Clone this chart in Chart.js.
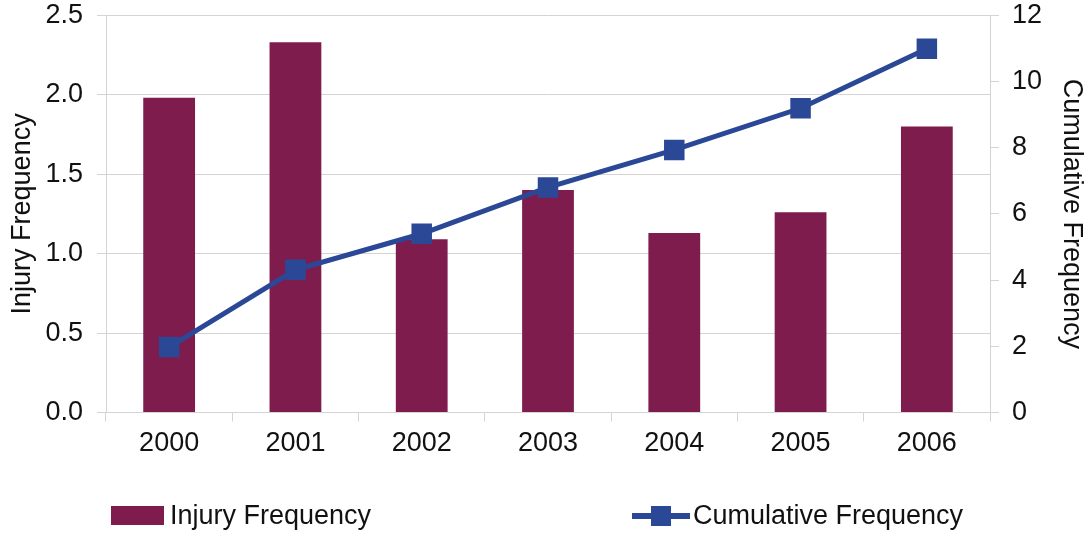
<!DOCTYPE html>
<html>
<head>
<meta charset="utf-8">
<script src="https://cdn.jsdelivr.net/npm/chart.js@4/dist/chart.umd.min.js"></script>
<style>
  html, body { margin: 0; padding: 0; background: #fff; overflow: hidden; }
  #wrap { position: relative; width: 1089px; height: 533px; overflow: hidden; }
  #chart { position: absolute; left: 0; top: -15px; }
  .legend-item { position: absolute; display: flex; align-items: center; font-family: "Liberation Sans", Arial, sans-serif; font-size: 27px; color: #111; }
  .swatch-bar { width: 53px; height: 19px; background: #7F1C4E; margin-right: 6px; }
  .swatch-line { position: relative; width: 58px; height: 20px; margin-right: 3px; }
  .swatch-line .ln { position: absolute; left: 0; right: 0; top: 7px; height: 6px; background: #2B4896; }
  .swatch-line .mk { position: absolute; left: 19px; top: 0; width: 20px; height: 20px; background: #2B4896; }
</style>
</head>
<body>
<div id="wrap">
  <canvas id="chart" width="1089" height="548"></canvas>
  <div class="legend-item" style="left:111px; top:500px;"><div class="swatch-bar"></div>Injury Frequency</div>
  <div class="legend-item" style="left:632px; top:500px;"><div class="swatch-line"><div class="ln"></div><div class="mk"></div></div>Cumulative Frequency</div>
</div>
<script>
const years = ['2000', '2001', '2002', '2003', '2004', '2005', '2006'];
const injuryFrequency = [1.98, 2.33, 1.09, 1.40, 1.13, 1.26, 1.80];
const cumulativeFrequency = [1.98, 4.31, 5.40, 6.80, 7.93, 9.19, 10.99];

const FONT = "'Liberation Sans', Arial, sans-serif";
const gridColor = '#d4d4d4';

const ctx = document.getElementById('chart').getContext('2d');
new Chart(ctx, {
    type: 'bar',
    data: {
        labels: years,
        datasets: [
            {
                type: 'line',
                label: 'Cumulative Frequency',
                data: cumulativeFrequency,
                yAxisID: 'yRight',
                borderColor: '#2B4896',
                backgroundColor: '#2B4896',
                borderWidth: 5,
                tension: 0,
                pointStyle: 'rect',
                pointRadius: 14.5,
                pointBorderWidth: 0,
                order: 0
            },
            {
                label: 'Injury Frequency',
                data: injuryFrequency,
                yAxisID: 'yLeft',
                backgroundColor: '#7F1C4E',
                categoryPercentage: 0.41,
                barPercentage: 1.0,
                order: 1
            }
        ]
    },
    options: {
        responsive: false,
        animation: false,
        layout: { padding: { left: 4, right: 1, top: 0, bottom: 67 } },
        plugins: {
            legend: { display: false },
            tooltip: { enabled: false }
        },
        scales: {
            x: {
                offset: true,
                grid: { display: true, drawOnChartArea: false, offset: true, color: gridColor, tickLength: 9 },
                border: { color: gridColor },
                ticks: { color: '#111', font: { family: FONT, size: 27 }, padding: 6 }
            },
            yLeft: {
                position: 'left',
                min: 0,
                max: 2.5,
                afterFit: scale => { scale.width = 102; },
                ticks: {
                    stepSize: 0.5,
                    color: '#111',
                    font: { family: FONT, size: 27 },
                    padding: 14,
                    callback: v => v.toFixed(1)
                },
                grid: { color: gridColor, tickLength: 9 },
                border: { color: gridColor },
                title: { display: true, text: 'Injury Frequency', color: '#111', font: { family: FONT, size: 27 }, padding: { top: 2, bottom: 7 } }
            },
            yRight: {
                position: 'right',
                min: 0,
                max: 12,
                afterFit: scale => { scale.width = 98; },
                ticks: { stepSize: 2, color: '#111', font: { family: FONT, size: 27 }, padding: 13 },
                grid: { drawOnChartArea: false, color: gridColor, tickLength: 9 },
                border: { color: gridColor },
                title: { display: true, text: 'Cumulative Frequency', color: '#111', font: { family: FONT, size: 27 }, padding: { top: 0, bottom: 13 } }
            }
        }
    }
});
</script>
</body>
</html>
